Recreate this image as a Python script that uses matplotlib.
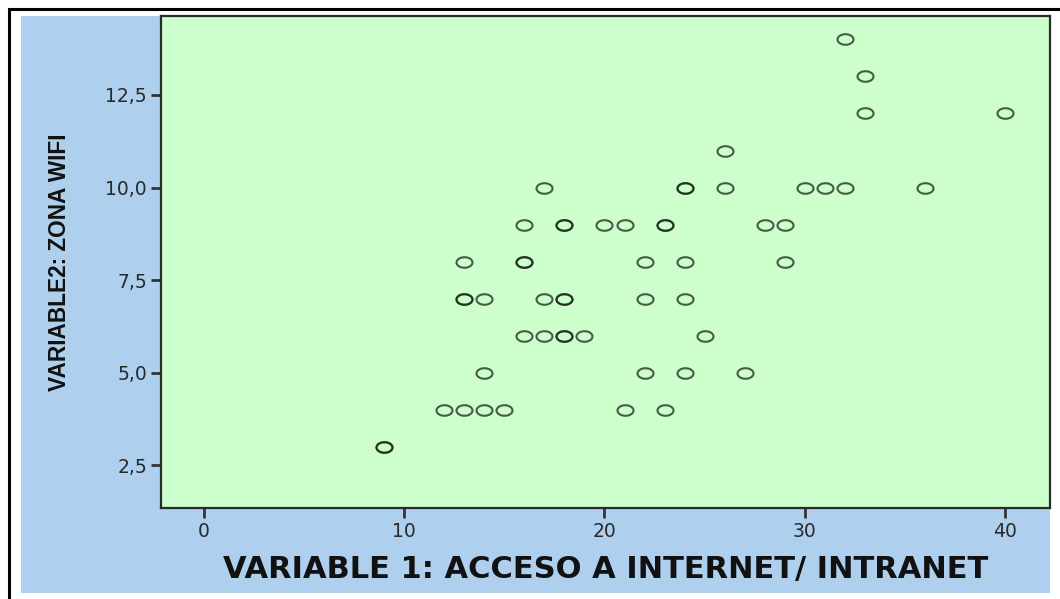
import numpy as np
import matplotlib
matplotlib.use('Agg')
import matplotlib.pyplot as plt
from matplotlib.path import Path
from matplotlib.patches import Rectangle
from matplotlib.ticker import FuncFormatter, FixedLocator

# datos: variable 1 (acceso a internet/intranet) vs variable 2 (zona wifi)
# los puntos repetidos aparecen dos veces (se ven mas oscuros)
var1 = [32, 33, 33, 40, 26,
        17, 24, 24, 26, 30, 31, 32, 36,
        16, 18, 18, 20, 21, 23, 23, 28, 29,
        13, 16, 16, 22, 24, 29,
        13, 13, 14, 17, 18, 18, 22, 24,
        16, 17, 18, 18, 19, 25,
        14, 22, 24, 27,
        12, 13, 14, 15, 21, 23,
        9, 9]
var2 = [14, 13, 12, 12, 11,
        10, 10, 10, 10, 10, 10, 10, 10,
        9, 9, 9, 9, 9, 9, 9, 9, 9,
        8, 8, 8, 8, 8, 8,
        7, 7, 7, 7, 7, 7, 7, 7,
        6, 6, 6, 6, 6, 6,
        5, 5, 5, 5,
        4, 4, 4, 4, 4, 4,
        3, 3]

x_ticks = [0, 10, 20, 30, 40]
y_ticks = [2.5, 5.0, 7.5, 10.0, 12.5]

W, H = 1060, 599
fig = plt.figure(figsize=(W / 100, H / 100), dpi=100)
fig.patch.set_facecolor('white')

# fondo azul y marco negro exterior
fig.patches.append(Rectangle((21 / W, 6 / H), (1050 - 21) / W, (593 - 16) / H,
                             transform=fig.transFigure, facecolor='#aecfed',
                             edgecolor='none', zorder=0))
fig.patches.append(Rectangle((9 / W, -0.1), 1.2, 1.1 - 9 / H,
                             transform=fig.transFigure, facecolor='none',
                             edgecolor='black', linewidth=2.2, zorder=1))

ax = fig.add_axes([161 / W, 1 - 508 / H, (1050 - 161) / W, (508 - 16) / H])
ax.set_zorder(3)
ax.set_facecolor('#ccffcc')

# marcador eliptico (la imagen original esta estirada en horizontal)
t = np.linspace(0, 2 * np.pi, 60)
ell = Path(np.column_stack([np.cos(t), 0.66 * np.sin(t)]), closed=True)

ax.plot(var1, var2, linestyle='none', marker=ell, markersize=11.5,
        markerfacecolor='none', markeredgecolor='#1a241a', markeredgewidth=1.5,
        alpha=0.75)

ax.set_xlim(-2.15, 42.25)
ax.set_ylim(1.353, 14.63)
ax.xaxis.set_major_locator(FixedLocator(x_ticks))
ax.yaxis.set_major_locator(FixedLocator(y_ticks))
ax.yaxis.set_major_formatter(FuncFormatter(lambda v, _: f'{v:.1f}'.replace('.', ',')))
ax.xaxis.set_major_formatter(FuncFormatter(lambda v, _: f'{int(v)}'))

for s in ax.spines.values():
    s.set_color('#2a2a2a')
    s.set_linewidth(1.6)

ax.tick_params(direction='out', length=7, width=2, color='#333333',
               labelsize=13.5, labelcolor='#2a2a2a', pad=3)
for lab in ax.get_xticklabels() + ax.get_yticklabels():
    lab.set_family(['DejaVu Sans'])

ax.set_xlabel('VARIABLE 1: ACCESO A INTERNET/ INTRANET', fontsize=22,
              fontweight='bold', family=['DejaVu Sans'], color='#111111')
ax.set_ylabel('VARIABLE2: ZONA WIFI', fontsize=16.3, fontweight='bold',
              family=['Liberation Sans', 'DejaVu Sans'], color='#111111')
ax.xaxis.set_label_coords(0.5, -0.095)
ax.yaxis.set_label_coords(-0.1015, 0.5)

fig.savefig('out.png', dpi=100)
